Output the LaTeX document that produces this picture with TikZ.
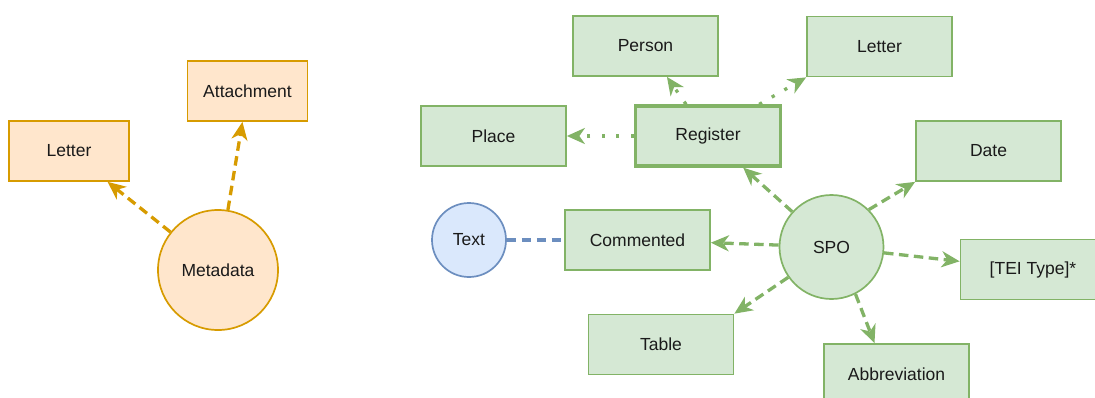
\documentclass[tikz,border=0pt]{standalone}
\usepackage{fontspec}
\setmainfont{Liberation Sans}
\usetikzlibrary{arrows.meta,calc}
\definecolor{orfill}{HTML}{FFE6CC}
\definecolor{orline}{HTML}{D79B00}
\definecolor{grfill}{HTML}{D5E8D4}
\definecolor{grline}{HTML}{82B366}
\definecolor{blfill}{HTML}{DAE8FC}
\definecolor{blline}{HTML}{6C8EBF}
\definecolor{ink}{HTML}{1A1A1A}
\tikzset{
  base/.style={inner sep=0pt, text=ink, font=\fontsize{17.5}{21}\selectfont, line width=1.7pt},
  orbox/.style={base, draw=orline, fill=orfill, minimum width=120pt, minimum height=60pt},
  grbox/.style={base, draw=grline, fill=grfill, minimum width=145pt, minimum height=60pt},
  orcirc/.style={base, circle, draw=orline, fill=orfill},
  grcirc/.style={base, circle, draw=grline, fill=grfill},
  blcirc/.style={base, circle, draw=blline, fill=blfill},
  tip/.style={-{Stealth[length=18pt,width=16pt,inset=5.5pt]}},
  dashlink/.style={line width=3.3pt, dash pattern=on 9.5pt off 5.5pt},
  dotlink/.style={line width=3.3pt, dash pattern=on 3.3pt off 11.2pt},
}
\begin{document}
\begin{tikzpicture}[x=1pt,y=-1pt]
\useasboundingbox (0,0) rectangle (1095,397);

% metadata cluster
\node[orbox] (mletter) at (69,151) {Letter};
\node[orbox] (attach) at (247.5,91) {Attachment};
\node[orcirc, minimum size=120pt] (meta) at (218,270) {Metadata};
\draw[orline, dashlink, tip] (meta) -- (mletter);
\draw[orline, dashlink, tip] (meta) -- (attach);

% register cluster
\node[grbox] (person) at (645.5,46) {Person};
\node[grbox] (gletter) at (879.5,46.5) {Letter};
\node[grbox] (place) at (493.5,136) {Place};
\node[grbox, line width=3.3pt] (register) at (708,136) {Register};
\draw[grline, dotlink, tip] (register) -- (person);
\draw[grline, dotlink, tip] ($(register.north west)!0.845!(register.north east)$) -- (gletter.south west);
\draw[grline, dotlink, tip] (register) -- (place);

% SPO cluster
\node[grbox] (date) at (988.5,151) {Date};
\node[grbox] (commented) at (637.5,240) {Commented};
\node[blcirc, minimum size=74pt] (text) at (469,240) {Text};
\node[grcirc, minimum size=104pt] (spo) at (831.5,247) {SPO};
\node[grbox] (tei) at (1033,269.5) {[TEI Type]*};
\node[grbox] (table) at (661,344.5) {Table};
\node[grbox] (abbr) at (896.5,374) {Abbreviation};

\draw[grline, dashlink, tip] (spo) -- (register);
\draw[grline, dashlink, tip] (spo.45) -- (date.south west);
\draw[grline, dashlink, tip] (spo) -- (commented);
\draw[grline, dashlink, tip] (spo) -- (tei);
\draw[grline, dashlink, tip] (spo.215) -- (table.north east);
\draw[grline, dashlink, tip] (spo.297) -- ($(abbr.north west)!0.35!(abbr.north east)$);
\draw[blline, dashlink] (text) -- (commented);
\end{tikzpicture}
\end{document}
